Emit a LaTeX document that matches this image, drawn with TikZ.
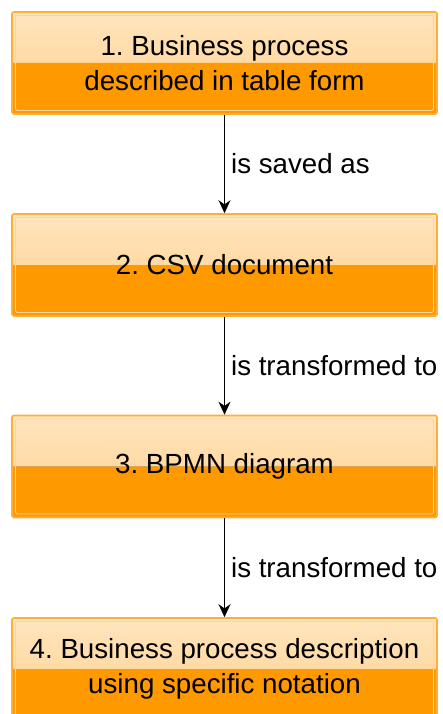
\documentclass[tikz,border=0pt]{standalone}
\usepackage{fontspec}
\setmainfont[Ligatures=NoCommon]{Liberation Sans}
\frenchspacing
\usetikzlibrary{arrows.meta}
\definecolor{boxtop}{HTML}{FFE5BE}
\definecolor{boxmid}{HTML}{FFCF8C}
\definecolor{boxorange}{HTML}{FF9900}
\definecolor{boxedge}{HTML}{FFAE3A}
\definecolor{boxinner}{HTML}{FFD49A}
\tikzstyle{process} = [rectangle, rounded corners=2pt, minimum width=425pt, minimum height=102pt, text centered, align=center, draw=boxedge, line width=1.6pt, font=\fontsize{27.7}{35}\selectfont,
  path picture={
    \fill [top color=boxtop, bottom color=boxmid] (path picture bounding box.north west) rectangle (path picture bounding box.east);
    \fill [boxorange] (path picture bounding box.west) rectangle (path picture bounding box.south east);
    \draw [boxinner, line width=0.9pt] ([shift={(3.5pt,-3.5pt)}]path picture bounding box.north west) rectangle ([shift={(-3.5pt,3.5pt)}]path picture bounding box.south east);
  }]
\tikzstyle{arrow} = [line width=1.2pt, -{Stealth[length=13pt,width=12pt]}]
\tikzstyle{edgetext} = [anchor=west, inner sep=6pt, font=\fontsize{27.7}{30}\selectfont]

\begin{document}
\begin{tikzpicture}[x=1pt, y=-1pt]
    \useasboundingbox (0,0) rectangle (442,714);
    \node [process] at (224.5,63) (b1) {1. Business process\\described in table form};
    \node [process] at (224.5,265) (b2) {2. CSV document};
    \node [process] at (224.5,466.5) (b3) {3. BPMN diagram};
    \node [process] at (224.5,669) (b4) {4. Business process description\\using specific notation};

    \draw [arrow] (b1) -- node[edgetext] {is saved as} (b2);
    \draw [arrow] (b2) -- node[edgetext] {is transformed to} (b3);
    \draw [arrow] (b3) -- node[edgetext] {is transformed to} (b4);
\end{tikzpicture}
\end{document}
